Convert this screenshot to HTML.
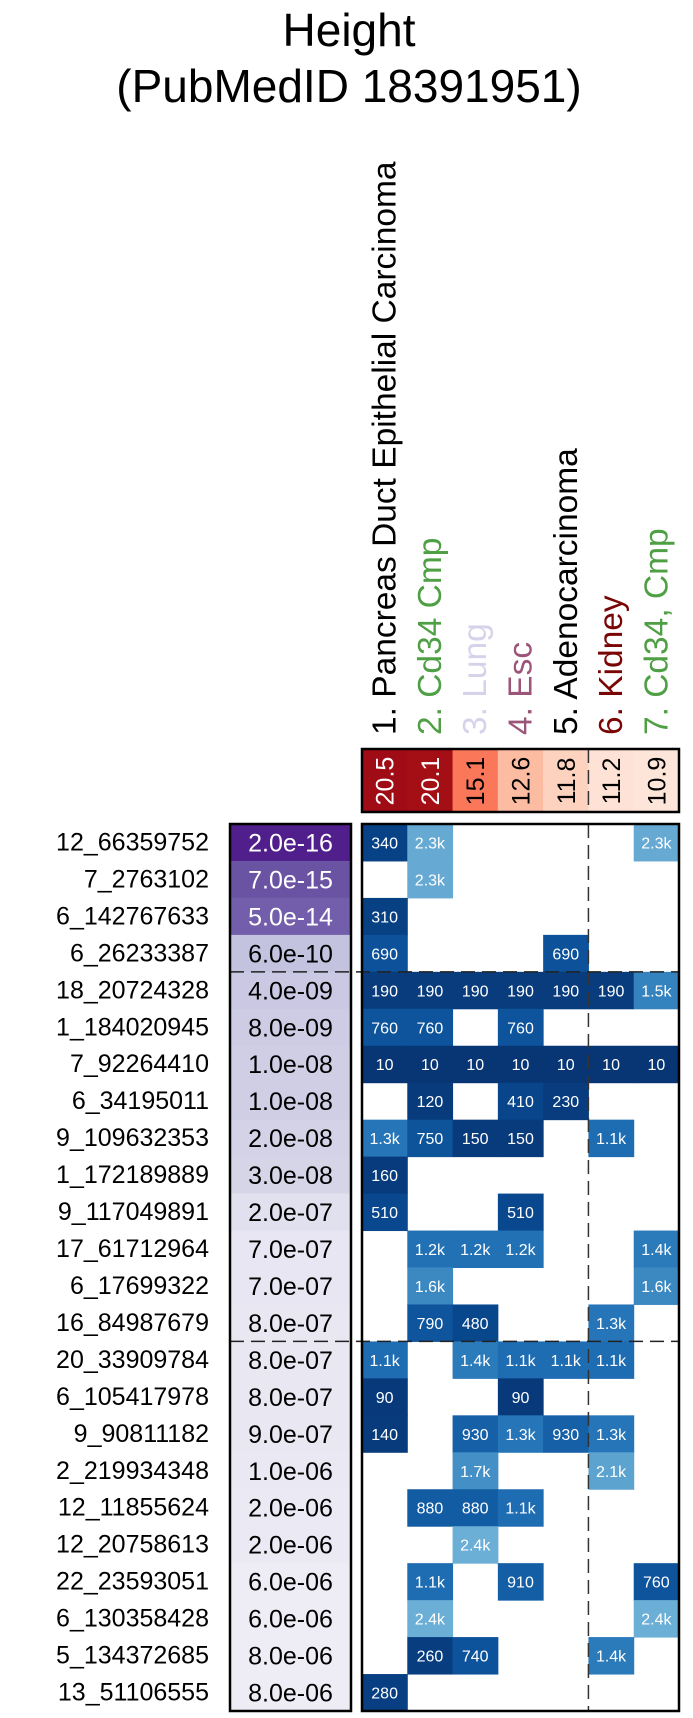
<!DOCTYPE html>
<html><head><meta charset="utf-8">
<style>
html,body{margin:0;padding:0;background:#fff;}
svg{display:block;font-family:"Liberation Sans",sans-serif;}
</style></head>
<body>
<svg id="chart" width="693" height="1718" viewBox="0 0 693 1718" xmlns="http://www.w3.org/2000/svg">
<text x="349" y="46" font-size="46" text-anchor="middle">Height</text>
<text x="349" y="102" font-size="46" text-anchor="middle">(PubMedID 18391951)</text>
<g id="g"></g>
</svg>
<script>
const colLabels=["1. Pancreas Duct Epithelial Carcinoma","2. Cd34 Cmp","3. Lung","4. Esc","5. Adenocarcinoma","6. Kidney","7. Cd34, Cmp"];
const colLabelColors=["#000","#4f9f45","#d6d2ea","#9c5578","#000","#7a0505","#4f9f45"];
const headerValues=[20.5,20.1,15.1,12.6,11.8,11.2,10.9];
const rowLabels=["12_66359752","7_2763102","6_142767633","6_26233387","18_20724328","1_184020945","7_92264410","6_34195011","9_109632353","1_172189889","9_117049891","17_61712964","6_17699322","16_84987679","20_33909784","6_105417978","9_90811182","2_219934348","12_11855624","12_20758613","22_23593051","6_130358428","5_134372685","13_51106555"];
const pValues=[2e-16,7e-15,5e-14,6e-10,4e-9,8e-9,1e-8,1e-8,2e-8,3e-8,2e-7,7e-7,7e-7,8e-7,8e-7,8e-7,9e-7,1e-6,2e-6,2e-6,6e-6,6e-6,8e-6,8e-6];
const N=null;
const cellValues=[
[340,2300,N,N,N,N,2300],
[N,2300,N,N,N,N,N],
[310,N,N,N,N,N,N],
[690,N,N,N,690,N,N],
[190,190,190,190,190,190,1500],
[760,760,N,760,N,N,N],
[10,10,10,10,10,10,10],
[N,120,N,410,230,N,N],
[1300,750,150,150,N,1100,N],
[160,N,N,N,N,N,N],
[510,N,N,510,N,N,N],
[N,1200,1200,1200,N,N,1400],
[N,1600,N,N,N,N,1600],
[N,790,480,N,N,1300,N],
[1100,N,1400,1100,1100,1100,N],
[90,N,N,90,N,N,N],
[140,N,930,1300,930,1300,N],
[N,N,1700,N,N,2100,N],
[N,880,880,1100,N,N,N],
[N,N,2400,N,N,N,N],
[N,1100,N,910,N,N,760],
[N,2400,N,N,N,N,2400],
[N,260,740,N,N,1400,N],
[280,N,N,N,N,N,N]];
const rowSplits=[4,14];
const colSplit=5;

const NS="http://www.w3.org/2000/svg";
const g=document.getElementById('g');
const gx0=362,gx1=679,gy0=824,gy1=1711;
const cw=(gx1-gx0)/7,rh=(gy1-gy0)/24;
const xCol=i=>gx0+i*cw, yRow=j=>gy0+j*rh;
function el(t,a){const e=document.createElementNS(NS,t);for(const k in a)e.setAttribute(k,a[k]);g.appendChild(e);return e;}
function lerpC(stops,t){t=Math.max(0,Math.min(1,t));for(let i=0;i<stops.length-1;i++){const[a,ca]=stops[i],[b,cb]=stops[i+1];if(t<=b){const f=(t-a)/(b-a||1);const c=ca.map((v,k)=>Math.round(v+(cb[k]-v)*f));return`rgb(${c})`;}}return`rgb(${stops[stops.length-1][1]})`;}
const blues=[[0,[8,48,107]],[0.7,[8,60,126]],[0.8,[9,72,142]],[0.86,[14,86,158]],[0.9,[30,108,178]],[0.93,[42,121,186]],[0.96,[72,148,200]],[1,[107,174,214]]];
const blueColor=v=>lerpC(blues,Math.log10(v)/Math.log10(2400));
const reds=[[0,[254,229,217]],[0.05,[254,224,210]],[0.12,[253,203,181]],[0.18,[252,187,161]],[0.43,[251,122,90]],[0.95,[165,15,21]],[1,[160,12,22]]];
const redColor=v=>lerpC(reds,(v-10.9)/(20.5-10.9));
const purps=[[0,[239,237,245]],[0.1,[233,231,242]],[0.2,[218,218,235]],[0.3,[203,201,226]],[0.45,[188,189,220]],[0.75,[114,95,170]],[0.85,[106,81,163]],[1,[74,20,134]]];
const purpColor=p=>lerpC(purps,(-Math.log10(p)-5)/11);
const fmt=v=>v>=1000?(v/1000).toFixed(1)+'k':String(v);

colLabels.forEach((s,i)=>{const cx=xCol(i)+cw/2+11;
const t=el('text',{x:cx,y:735,'font-size':33.5,fill:colLabelColors[i],transform:`rotate(-90 ${cx} 735)`});t.textContent=s;

});
headerValues.forEach((v,i)=>{const r=el('rect',{x:xCol(i),y:749,width:cw+0.5,height:63,fill:redColor(v)});


const cx=xCol(i)+cw/2+9;const t=el('text',{x:cx,y:781,'font-size':25,'text-anchor':'middle',fill:v>19?'#fff':'#000',transform:`rotate(-90 ${cx} 781)`});t.textContent=v.toFixed(1);

});
el('line',{x1:xCol(colSplit),x2:xCol(colSplit),y1:749,y2:812,stroke:'#333','stroke-width':1.5,'stroke-dasharray':'14,7'});
const hb=el('rect',{x:gx0,y:749,width:gx1-gx0,height:63,fill:'none',stroke:'#000','stroke-width':2.5});


rowLabels.forEach((s,j)=>{const y=yRow(j);
const t=el('text',{x:209,y:y+rh/2+8,'font-size':25,'text-anchor':'end'});t.textContent=s;


const p=pValues[j];const r=el('rect',{x:230,y:y,width:121,height:rh+0.5,fill:purpColor(p)});


const pt=el('text',{x:290.5,y:y+rh/2+9,'font-size':25,'text-anchor':'middle',fill:-Math.log10(p)>13?'#fff':'#000'});pt.textContent=p.toExponential(1).replace(/e([+-])(\d)$/,'e$10$2');


cellValues[j].forEach((v,i)=>{if(v==null)return;
const c=el('rect',{x:xCol(i),y:y,width:cw+0.5,height:rh+0.5,fill:blueColor(v)});


const ct=el('text',{x:xCol(i)+cw/2,y:y+rh/2+6,'font-size':16,'text-anchor':'middle',fill:'#fff'});ct.textContent=fmt(v);

});});
el('line',{x1:xCol(colSplit),x2:xCol(colSplit),y1:gy0,y2:gy1,stroke:'#333','stroke-width':1.5,'stroke-dasharray':'14,7'});
rowSplits.forEach(k=>{el('line',{x1:230,x2:gx1,y1:yRow(k),y2:yRow(k),stroke:'#222','stroke-width':1.5,'stroke-dasharray':'14,7'});});
const pb=el('rect',{x:230,y:gy0,width:121,height:gy1-gy0,fill:'none',stroke:'#000','stroke-width':2.5});


const gb=el('rect',{x:gx0,y:gy0,width:gx1-gx0,height:gy1-gy0,fill:'none',stroke:'#000','stroke-width':2.5});


</script>
</body></html>
